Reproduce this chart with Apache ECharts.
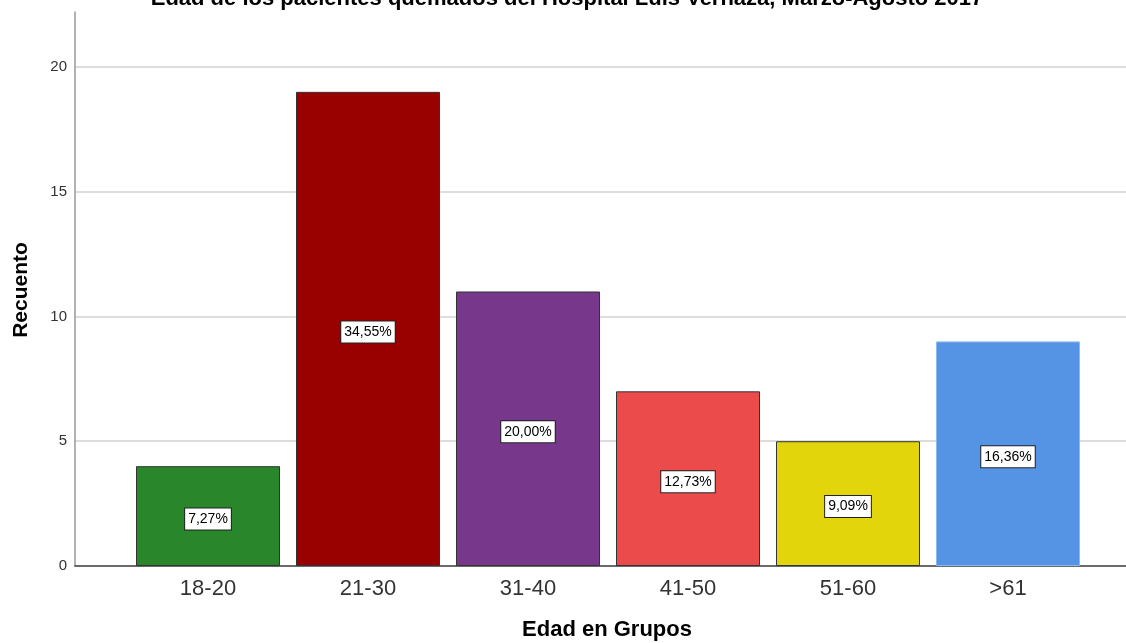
<!DOCTYPE html>
<html>
<head>
<meta charset="utf-8">
<script src="https://cdn.jsdelivr.net/npm/echarts@6/dist/echarts.min.js"></script>
<style>
  html, body { margin: 0; padding: 0; background: #fff; }
  #chart { width: 1126px; height: 643px; }
</style>
</head>
<body>
<div id="chart"></div>
<script>
// Age groups of burn patients and their counts
const categories = ['18-20', '21-30', '31-40', '41-50', '51-60', '>61'];
const counts = [4, 19, 11, 7, 5, 9];
const percentLabels = ['7,27%', '34,55%', '20,00%', '12,73%', '9,09%', '16,36%'];
const barColors = ['#2A862A', '#990000', '#77378B', '#EB4B4B', '#E2D50C', '#5594E4'];
const borderColors = ['#333333', '#333333', '#333333', '#333333', '#333333', '#8DB8EE'];
const yTicks = [0, 5, 10, 15, 20];

const font = 'Arial, "Liberation Sans", Helvetica, sans-serif';
const yMax = 22.2;

const chart = echarts.init(document.getElementById('chart'), null, { renderer: 'canvas' });

chart.setOption({
  animation: false,
  backgroundColor: '#ffffff',
  title: [
    {
      text: 'Edad de los pacientes quemados del Hospital Luis Vernaza, Marzo-Agosto 2017',
      left: 567, top: -12, textAlign: 'center', padding: 0,
      textStyle: { fontFamily: font, fontSize: 22, lineHeight: 22, fontWeight: 'bold', color: '#000' }
    },
    {
      text: 'Edad en Grupos',
      left: 607, top: 619, textAlign: 'center', padding: 0,
      textStyle: { fontFamily: font, fontSize: 22, lineHeight: 22, fontWeight: 'bold', color: '#000' }
    }
  ],
  graphic: [{
    type: 'text',
    x: 21, y: 290, rotation: Math.PI / 2,
    style: {
      text: 'Recuento', font: 'bold 21px ' + font, fill: '#000',
      align: 'center', verticalAlign: 'middle'
    }
  }],
  grid: [
    // frame: y axis, gridlines and baseline across the full width
    { left: 75, right: 0, top: 12, bottom: 77 },
    // bars and category labels
    { left: 128, width: 960, top: 12, bottom: 77 }
  ],
  xAxis: [
    {
      gridIndex: 0, type: 'category', data: [''],
      axisLine: { lineStyle: { color: '#444', width: 1.5 } },
      axisTick: { show: false }, axisLabel: { show: false }, splitLine: { show: false }
    },
    {
      gridIndex: 1, type: 'category', data: categories, boundaryGap: true,
      axisLine: { show: false }, axisTick: { show: false },
      axisLabel: { fontFamily: font, fontSize: 22, color: '#333', margin: 12 }
    }
  ],
  yAxis: [
    {
      gridIndex: 0, type: 'value', min: 0, max: yMax, interval: 5,
      axisLine: { show: true, lineStyle: { color: '#999', width: 1.5 } },
      axisTick: { show: false },
      axisLabel: {
        fontFamily: font, fontSize: 15, color: '#333', margin: 8,
        formatter: v => (yTicks.includes(v) ? String(v) : '')
      },
      splitLine: { show: true, showMaxLine: false, lineStyle: { color: '#d2d2d2', width: 1.5 } }
    },
    {
      gridIndex: 1, type: 'value', min: 0, max: yMax, interval: 5,
      axisLine: { show: false }, axisTick: { show: false },
      axisLabel: { show: false }, splitLine: { show: false }
    }
  ],
  series: [{
    type: 'bar',
    xAxisIndex: 1, yAxisIndex: 1,
    barWidth: 144,
    data: counts.map((v, i) => ({
      value: v,
      itemStyle: { color: barColors[i], borderColor: borderColors[i], borderWidth: 1 }
    })),
    label: {
      show: true, position: 'inside', offset: [0, 3],
      formatter: p => percentLabels[p.dataIndex],
      fontFamily: font, fontSize: 14, color: '#000',
      backgroundColor: '#fff', borderColor: '#222', borderWidth: 1,
      padding: [4, 3, 3, 3]
    },
    z: 3
  }]
});
</script>
</body>
</html>
